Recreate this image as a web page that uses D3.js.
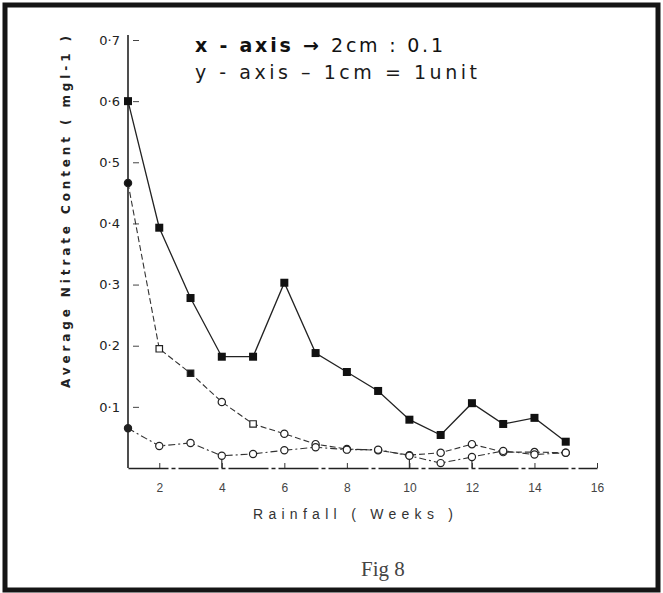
<!DOCTYPE html>
<html lang="en">
<head>
<meta charset="utf-8">
<title>Fig 8 - Average Nitrate Content vs Rainfall</title>
<script src="https://d3js.org/d3.v7.min.js"></script>
<style>
  body { margin: 0; background: #fff; }
</style>
</head>
<body>
<div id="chart"></div>
<script>
// data
const weeks = [1, 2, 3, 4, 5, 6, 7, 8, 9, 10, 11, 12, 13, 14, 15];
const seriesTop = [0.60, 0.393, 0.278, 0.182, 0.182, 0.303, 0.188, 0.157, 0.126, 0.079, 0.054, 0.106, 0.072, 0.082, 0.043];
const seriesMid = [0.466, 0.195, 0.155, 0.108, 0.072, 0.056, 0.039, 0.031, 0.029, 0.021, 0.025, 0.039, 0.026, 0.026, 0.025];
const seriesLow = [0.065, 0.036, 0.041, 0.020, 0.023, 0.029, 0.034, 0.030, 0.030, 0.020, 0.008, 0.018, 0.028, 0.022, 0.025];
const dropWeeks = [4, 10, 12];

const xTicks = [2, 4, 6, 8, 10, 12, 14, 16];
const yTicks = [0.1, 0.2, 0.3, 0.4, 0.5, 0.6, 0.7];
const yTickLabels = ["0·1", "0·2", "0·3", "0·4", "0·5", "0·6", "0·7"];

var W = 663, H = 593;

var svg = d3.select("#chart").append("svg")
  .attr("width", W)
  .attr("height", H);

svg.append("rect")
  .attr("x", 5).attr("y", 5)
  .attr("width", 653).attr("height", 585)
  .attr("fill", "#fff")
  .attr("stroke", "#151515")
  .attr("stroke-width", 5);

var xScale = d3.scaleLinear().domain([1, 16]).range([128, 597]);
var yScale = d3.scaleLinear().domain([0, 0.7]).range([468, 40]);

// x axis (ticks point up, line a bit broken like the scan)
var xAxis = d3.axisBottom(xScale)
  .tickValues(xTicks)
  .tickSize(-5)
  .tickSizeOuter(0)
  .tickPadding(15);

var gx = svg.append("g")
  .attr("transform", `translate(0,${yScale(0)})`)
  .call(xAxis);
gx.select(".domain")
  .attr("stroke", "#222")
  .attr("stroke-width", 1.6)
  .attr("stroke-dasharray", "40,3,4,3");
gx.selectAll(".tick line").attr("stroke", "#333");
gx.selectAll(".tick text")
  .attr("font-family", "Liberation Sans, sans-serif")
  .attr("font-size", 12)
  .attr("fill", "#444");

// y axis, small dashes to the right of the line
var yAxis = d3.axisLeft(yScale)
  .tickValues(yTicks)
  .tickFormat((d, i) => yTickLabels[i])
  .tickSize(-11)
  .tickSizeOuter(0)
  .tickPadding(8);

var gy = svg.append("g")
  .attr("transform", `translate(${xScale(1)},0)`)
  .call(yAxis);
gy.select(".domain").remove();
gy.append("line")
  .attr("y1", yScale(0))
  .attr("y2", yScale(0.7) - 5)
  .attr("stroke", "#222")
  .attr("stroke-width", 1.6);
gy.selectAll(".tick line")
  .attr("x1", 5)
  .attr("stroke", "#444");
gy.selectAll(".tick text")
  .attr("font-family", "DejaVu Sans, sans-serif")
  .attr("font-size", 13)
  .attr("fill", "#222");

// lines
var line = d3.line()
  .x(d => xScale(d[0]))
  .y(d => yScale(d[1]));

function pairs(vals) {
  return weeks.map((w, i) => [w, vals[i]]);
}

svg.append("path")
  .datum(pairs(seriesTop))
  .attr("d", line)
  .attr("fill", "none")
  .attr("stroke", "#222")
  .attr("stroke-width", 1.3);

svg.append("path")
  .datum(pairs(seriesMid))
  .attr("d", line)
  .attr("fill", "none")
  .attr("stroke", "#333")
  .attr("stroke-width", 1.1)
  .attr("stroke-dasharray", "6,3");

svg.append("path")
  .datum(pairs(seriesLow))
  .attr("d", line)
  .attr("fill", "none")
  .attr("stroke", "#333")
  .attr("stroke-width", 1.1)
  .attr("stroke-dasharray", "7,3,2,3");

// drop lines from the low series to the axis
svg.selectAll(".drop")
  .data(dropWeeks)
  .enter().append("line")
  .attr("class", "drop")
  .attr("x1", d => xScale(d))
  .attr("x2", d => xScale(d))
  .attr("y1", d => yScale(seriesLow[weeks.indexOf(d)]))
  .attr("y2", yScale(0))
  .attr("stroke", "#333")
  .attr("stroke-width", 1.2);

// markers
svg.selectAll(".mtop")
  .data(pairs(seriesTop))
  .enter().append("rect")
  .attr("class", "mtop")
  .attr("x", d => xScale(d[0]) - 4)
  .attr("y", d => yScale(d[1]) - 4)
  .attr("width", 8).attr("height", 8)
  .attr("fill", "#111");

// the middle curve mixes squares and circles in the scan
function midShape(i) {
  return (i == 1 || i == 2 || i == 4) ? d3.symbolSquare : d3.symbolCircle;
}

svg.selectAll(".mmid")
  .data(pairs(seriesMid))
  .enter().append("path")
  .attr("class", "mmid")
  .attr("transform", d => `translate(${xScale(d[0])},${yScale(d[1])})`)
  .attr("d", (d, i) => d3.symbol().type(midShape(i)).size(42)())
  .attr("fill", (d, i) => (i == 0 || i == 2) ? "#111" : "#fff")
  .attr("stroke", "#222")
  .attr("stroke-width", 1.2);

svg.selectAll(".mlow")
  .data(pairs(seriesLow))
  .enter().append("circle")
  .attr("class", "mlow")
  .attr("cx", d => xScale(d[0]))
  .attr("cy", d => yScale(d[1]))
  .attr("r", 3.6)
  .attr("fill", (d, i) => i == 0 ? "#222" : "#fff")
  .attr("stroke", "#222")
  .attr("stroke-width", 1.2);

// annotation
var note1 = svg.append("text")
  .attr("x", 195).attr("y", 52)
  .attr("font-family", "DejaVu Sans, sans-serif")
  .attr("font-size", 19)
  .attr("fill", "#111")
  .attr("textLength", 248)
  .attr("lengthAdjust", "spacing");
note1.append("tspan").attr("font-weight", "bold").text("x - axis → ");
note1.append("tspan").text("2cm : 0.1");

svg.append("text")
  .attr("x", 195).attr("y", 79)
  .attr("font-family", "DejaVu Sans, sans-serif")
  .attr("font-size", 19)
  .attr("fill", "#1a1a1a")
  .attr("textLength", 282)
  .attr("lengthAdjust", "spacing")
  .text("y - axis  –  1cm = 1unit");

// axis titles
svg.append("text")
  .attr("transform", "translate(70,212) rotate(-90)")
  .attr("text-anchor", "middle")
  .attr("font-family", "DejaVu Sans, sans-serif")
  .attr("font-size", 12)
  .attr("font-weight", "bold")
  .attr("fill", "#222")
  .attr("textLength", 352)
  .attr("lengthAdjust", "spacing")
  .text("Average Nitrate Content ( mgl-1 )");

svg.append("text")
  .attr("x", 353).attr("y", 519)
  .attr("text-anchor", "middle")
  .attr("font-family", "Liberation Sans, sans-serif")
  .attr("font-size", 14)
  .attr("fill", "#333")
  .attr("textLength", 200)
  .attr("lengthAdjust", "spacing")
  .text("Rainfall ( Weeks )");

svg.append("text")
  .attr("x", 383).attr("y", 576)
  .attr("text-anchor", "middle")
  .attr("font-family", "Liberation Serif, serif")
  .attr("font-size", 21)
  .attr("fill", "#444")
  .text("Fig 8");
</script>
</body>
</html>
